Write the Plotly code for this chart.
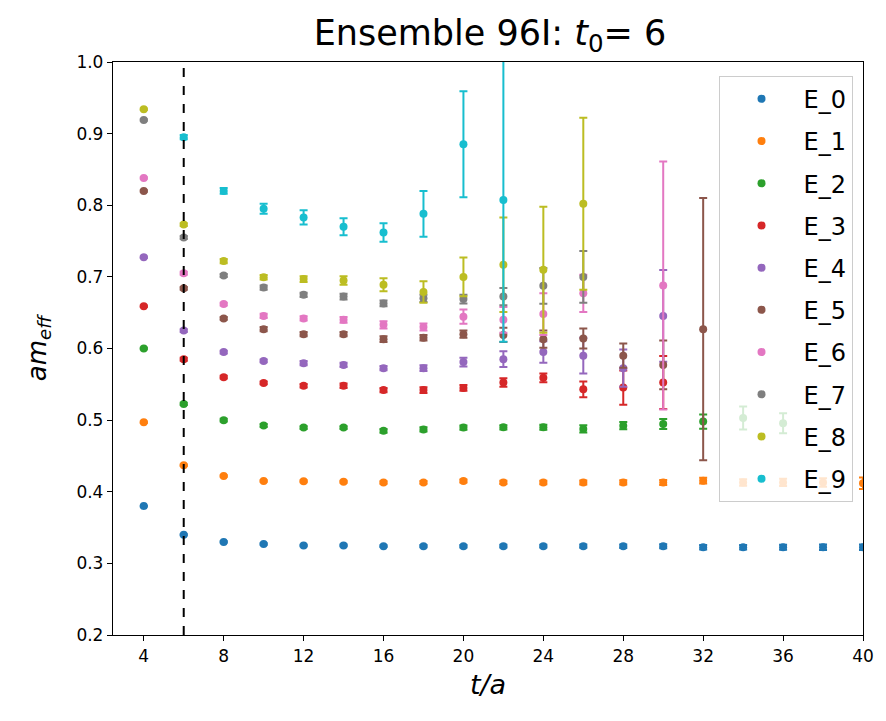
import plotly.graph_objects as go

# Euclidean time slices t/a
t_vals = [4, 6, 8, 10, 12, 14, 16, 18, 20, 22, 24, 26, 28, 30, 32, 34, 36, 38, 40]
t0 = 6

# Effective energies per level (None = no point at that slice)
E0 = [0.380, 0.340, 0.330, 0.327, 0.325, 0.325, 0.324, 0.324, 0.324, 0.324,
      0.324, 0.324, 0.324, 0.324, 0.3225, 0.3225, 0.3225, 0.3225, 0.3225]
E0_err = [0.0005, 0.0008, 0.001, 0.001, 0.001, 0.0012, 0.0013, 0.0015, 0.0017, 0.002,
          0.002, 0.0022, 0.0025, 0.0028, 0.003, 0.0032, 0.0035, 0.0038, 0.004]

E1 = [0.497, 0.437, 0.422, 0.415, 0.4147, 0.414, 0.413, 0.413, 0.415, 0.413,
      0.413, 0.413, 0.413, 0.413, 0.4155, 0.413, 0.413, 0.413, 0.412]
E1_err = [0.001, 0.001, 0.001, 0.0012, 0.0013, 0.0015, 0.0017, 0.002, 0.002, 0.0022,
          0.0025, 0.0028, 0.003, 0.0035, 0.004, 0.0045, 0.005, 0.006, 0.008]

E2 = [0.600, 0.5226, 0.500, 0.4925, 0.4896, 0.4896, 0.485, 0.487, 0.4896, 0.490,
      0.490, 0.4877, 0.4923, 0.4947, 0.498, 0.503, 0.4957, None, None]
E2_err = [0.001, 0.0015, 0.002, 0.002, 0.002, 0.002, 0.0025, 0.003, 0.003, 0.003,
          0.0035, 0.005, 0.005, 0.007, 0.010, 0.016, 0.014, None, None]

E3 = [0.659, 0.585, 0.560, 0.552, 0.548, 0.548, 0.542, 0.542, 0.545, 0.5525,
      0.559, 0.543, 0.5454, 0.5524, None, None, None, None, None]
E3_err = [0.001, 0.002, 0.002, 0.002, 0.0025, 0.003, 0.003, 0.004, 0.004, 0.006,
          0.006, 0.011, 0.024, 0.037, None, None, None, None, None]

E4 = [0.7275, 0.625, 0.595, 0.5827, 0.5795, 0.577, 0.5725, 0.5725, 0.581, 0.585,
      0.595, 0.590, 0.5725, 0.6455, None, None, None, None, None]
E4_err = [0.001, 0.002, 0.002, 0.002, 0.003, 0.003, 0.003, 0.004, 0.006, 0.011,
          0.015, 0.025, 0.026, 0.064, None, None, None, None, None]

E5 = [0.820, 0.684, 0.642, 0.627, 0.620, 0.620, 0.613, 0.615, 0.620, 0.619,
      0.613, 0.614, 0.590, 0.577, 0.627, None, None, None, None]
E5_err = [0.001, 0.002, 0.002, 0.003, 0.003, 0.003, 0.004, 0.004, 0.005, 0.010,
          0.012, 0.014, 0.017, 0.034, 0.183, None, None, None, None]

E6 = [0.838, 0.705, 0.662, 0.6455, 0.642, 0.640, 0.633, 0.630, 0.6445, 0.640,
      0.648, 0.677, None, 0.688, None, None, None, None, None]
E6_err = [0.001, 0.002, 0.002, 0.003, 0.003, 0.004, 0.005, 0.005, 0.010, 0.018,
          0.029, 0.026, None, 0.173, None, None, None, None, None]

E7 = [0.919, 0.755, 0.702, 0.685, 0.675, 0.6725, 0.663, 0.670, 0.669, 0.6725,
      0.6875, 0.700, None, None, None, None, None, None, None]
E7_err = [0.001, 0.002, 0.002, 0.003, 0.003, 0.004, 0.004, 0.005, 0.006, 0.012,
          0.025, 0.036, None, None, None, None, None, None, None]

E8 = [0.934, 0.773, 0.722, 0.6995, 0.697, 0.695, 0.689, 0.679, 0.700, 0.717,
      0.710, 0.802, None, None, None, None, None, None, None]
E8_err = [0.001, 0.002, 0.003, 0.003, 0.004, 0.006, 0.009, 0.015, 0.027, 0.066,
          0.088, 0.120, None, None, None, None, None, None, None]

E9 = [None, 0.895, 0.820, 0.795, 0.783, 0.770, 0.762, 0.788, 0.885, 0.8075,
      None, None, None, None, None, None, None, None, None]
E9_err = [None, 0.003, 0.004, 0.007, 0.010, 0.012, 0.013, 0.032, 0.074, 0.198,
          None, None, None, None, None, None, None, None, None]

level_names = ["E_0", "E_1", "E_2", "E_3", "E_4", "E_5", "E_6", "E_7", "E_8", "E_9"]
level_vals = [E0, E1, E2, E3, E4, E5, E6, E7, E8, E9]
level_errs = [E0_err, E1_err, E2_err, E3_err, E4_err, E5_err, E6_err, E7_err, E8_err, E9_err]
colors = ["#1f77b4", "#ff7f0e", "#2ca02c", "#d62728", "#9467bd",
          "#8c564b", "#e377c2", "#7f7f7f", "#bcbd22", "#17becf"]

x_ticks = [4, 8, 12, 16, 20, 24, 28, 32, 36, 40]
y_ticks = [0.2, 0.3, 0.4, 0.5, 0.6, 0.7, 0.8, 0.9, 1.0]
y_ticktext = ["0.2", "0.3", "0.4", "0.5", "0.6", "0.7", "0.8", "0.9", "1.0"]

FONT = "DejaVu Sans"

fig = go.Figure()

for name, vals, errs, col in zip(level_names, level_vals, level_errs, colors):
    xs = [t for t, v in zip(t_vals, vals) if v is not None]
    ys = [v for v in vals if v is not None]
    es = [e for v, e in zip(vals, errs) if v is not None]
    fig.add_trace(go.Scatter(
        x=xs, y=ys, mode="markers", name=name, legendgroup=name,
        marker=dict(color=col, size=8, line=dict(width=0)),
        error_y=dict(type="data", array=es, visible=True, color=col,
                     thickness=2, width=4),
    ))

# Source-time marker t0
fig.add_shape(type="line", x0=t0, x1=t0, xref="x", y0=0, y1=1, yref="paper",
              line=dict(color="black", width=2, dash="dash"))

axis_common = dict(showline=True, mirror=True, linecolor="black", linewidth=1.3,
                   ticks="outside", ticklen=5, tickwidth=1.2, tickcolor="black",
                   showgrid=False, zeroline=False,
                   tickfont=dict(family=FONT, size=17, color="black"))

fig.update_xaxes(range=[2.46, 40], tickvals=x_ticks,
                 title=dict(text="<i>t/a</i>", font=dict(family=FONT, size=27, color="black"),
                            standoff=10),
                 **axis_common)
fig.update_yaxes(range=[0.2, 1.0], tickvals=y_ticks, ticktext=y_ticktext,
                 title=dict(text="<i>am</i><sub><i>eff</i></sub>",
                            font=dict(family=FONT, size=26, color="black"), standoff=22),
                 **axis_common)

fig.update_layout(
    width=886, height=721,
    margin=dict(l=113, r=18, t=62, b=86),
    plot_bgcolor="white", paper_bgcolor="white",
    title=dict(text="Ensemble 96I: <i>t</i><sub>0</sub>= 6", x=0.553, xanchor="center",
               y=0.955, yanchor="middle",
               font=dict(family=FONT, size=35, color="black")),
    legend=dict(x=0.986, xanchor="right", y=0.976, yanchor="top",
                bgcolor="rgba(255,255,255,0.8)", bordercolor="#cccccc", borderwidth=1,
                font=dict(family=FONT, size=24, color="black"),
                tracegroupgap=8, itemwidth=74),
    showlegend=True,
)

fig.write_html("out.html")
